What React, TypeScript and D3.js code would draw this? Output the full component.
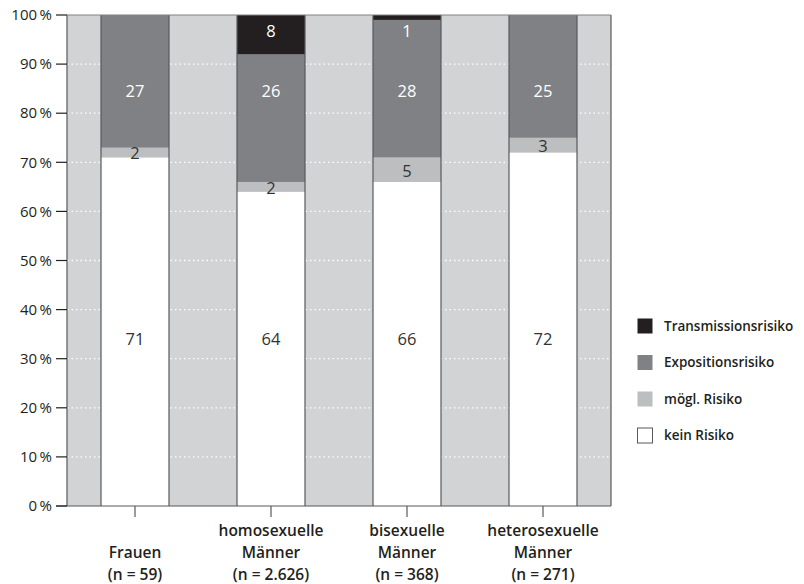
import React from "react";
import * as d3 from "d3";

const categories = ["Frauen", "homosexuelle Männer", "bisexuelle Männer", "heterosexuelle Männer"];
const categoryLines = [["Frauen", "(n = 59)"], ["homosexuelle", "Männer", "(n = 2.626)"], ["bisexuelle", "Männer", "(n = 368)"], ["heterosexuelle", "Männer", "(n = 271)"]];
const keinRisiko = [71, 64, 66, 72];
const moeglRisiko = [2, 2, 5, 3];
const expositionsrisiko = [27, 26, 28, 25];
const transmissionsrisiko = [0, 8, 1, 0];
const seriesNames = ["kein Risiko", "mögl. Risiko", "Expositionsrisiko", "Transmissionsrisiko"];
const seriesColors = ["#ffffff", "#bcbec0", "#808184", "#231f20"];
const labelColors = ["#333333", "#333333", "#ffffff", "#ffffff"];
// fixed label rows (in %) used by the original for kein / Exposition / Transmission; null = centred
const labelRows: (number | null)[] = [34, null, 84.5, 96.8];
const yTicks = [0, 10, 20, 30, 40, 50, 60, 70, 80, 90, 100];

export default function App() {
  const W = 804, H = 584;
  const left = 67, right = 611, top = 15, bottom = 506;
  const x = d3.scaleBand<string>().domain(categories).range([left, right]).paddingInner(0).paddingOuter(0);
  const y = d3.scaleLinear().domain([0, 100]).range([bottom, top]);
  const barW = x.bandwidth() * 0.5;
  const data = categories.map((c, i) => ({
    cat: c,
    v0: keinRisiko[i], v1: moeglRisiko[i], v2: expositionsrisiko[i], v3: transmissionsrisiko[i],
  }));
  const stack = d3.stack<any>().keys(["v0", "v1", "v2", "v3"])(data);
  const font = "'Open Sans', 'Noto Sans', sans-serif";

  return (
    <svg width={W} height={H} style={{ position: "absolute", left: 0, top: 0, fontFamily: font }}>
      <rect x={left} y={top} width={right - left} height={bottom - top} fill="#d1d3d4" />
      {yTicks.filter(t => t > 0 && t < 100).map(t => (
        <line key={t} x1={left} x2={right} y1={y(t)} y2={y(t)} stroke="#ffffff" strokeWidth={1.3} strokeDasharray="1.5,3" />
      ))}
      {stack.map((s, si) => s.map((d, ci) => {
        const h = y(d[0]) - y(d[1]);
        if (h <= 0) return null;
        return (
          <rect key={si + "-" + ci} x={x(categories[ci])! + barW / 2} y={y(d[1])} width={barW} height={h} fill={seriesColors[si]} />
        );
      }))}
      {categories.map(c => (
        <g key={c}>
          <line x1={x(c)! + barW / 2} x2={x(c)! + barW / 2} y1={top} y2={bottom} stroke="#58595b" strokeWidth={1.2} />
          <line x1={x(c)! + barW * 1.5} x2={x(c)! + barW * 1.5} y1={top} y2={bottom} stroke="#58595b" strokeWidth={1.2} />
        </g>
      ))}
      {stack.map((s, si) => s.map((d, ci) => {
        const v = d[1] - d[0];
        if (v <= 0) return null;
        const row = labelRows[si];
        const ly = row === null ? (y(d[0]) + y(d[1])) / 2 + 1 : y(row);
        return (
          <text key={"l" + si + "-" + ci} x={x(categories[ci])! + x.bandwidth() / 2} y={ly} dy="0.36em"
            textAnchor="middle" fontSize={16.5} fill={labelColors[si]} fontWeight={400}>{v}</text>
        );
      }))}
      <line x1={left} x2={left} y1={top} y2={bottom} stroke="#58595b" strokeWidth={1.2} />
      <line x1={right} x2={right} y1={top} y2={bottom} stroke="#58595b" strokeWidth={1.2} />
      <line x1={left} x2={right} y1={top} y2={top} stroke="#808184" strokeWidth={1} />
      <line x1={56} x2={right} y1={bottom} y2={bottom} stroke="#58595b" strokeWidth={1.2} />
      {yTicks.map(t => (
        <g key={"t" + t}>
          <line x1={56} x2={left} y1={y(t)} y2={y(t)} stroke="#231f20" strokeWidth={1.2} />
          <text x={52} y={y(t)} dy="0.35em" textAnchor="end" fontSize={15} fontWeight={400} fill="#231f20">{t}{"\u2009"}%</text>
        </g>
      ))}
      {categories.map((c, i) => {
        const cx = x(c)! + x.bandwidth() / 2;
        const lines = categoryLines[i];
        const baseY = 575 - (lines.length - 1) * 22;
        return (
          <g key={"c" + c}>
            <line x1={cx} x2={cx} y1={bottom} y2={517} stroke="#58595b" strokeWidth={1.2} />
            {lines.map((ln, li) => (
              <text key={li} x={cx} y={baseY + li * 22} dy="0.35em" textAnchor="middle" fontSize={15.5} fontWeight={600} fill="#231f20">{ln}</text>
            ))}
          </g>
        );
      })}
      {[3, 2, 1, 0].map((si, k) => (
        <g key={"lg" + si} transform={`translate(637, ${318 + k * 36.5})`}>
          <rect x={0.5} y={0.5} width={15} height={15} fill={seriesColors[si]} stroke={si === 0 ? "#58595b" : "none"} strokeWidth={1} />
          <text x={27} y={8} dy="0.35em" fontSize={13.5} fontWeight={600} fill="#231f20">{seriesNames[si]}</text>
        </g>
      ))}
    </svg>
  );
}
